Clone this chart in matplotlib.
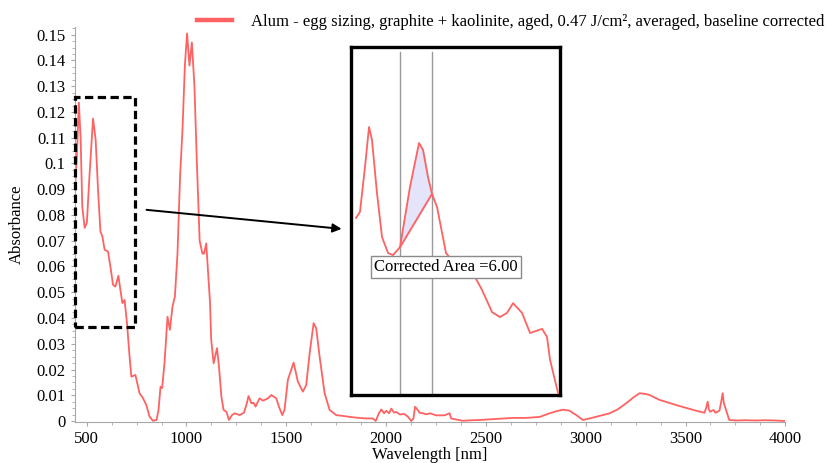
import numpy as np
import matplotlib
matplotlib.use("Agg")
import matplotlib.pyplot as plt
from matplotlib.lines import Line2D
from matplotlib.patches import Rectangle
from matplotlib.ticker import MultipleLocator, FuncFormatter

plt.rcParams["font.family"] = ["Liberation Serif", "DejaVu Serif"]
plt.rcParams["font.size"] = 12

RED = "#ff6262"
GREY = "#a8a8a8"

# main spectrum
wl = [440, 451, 461, 470, 478, 490, 501, 515, 532, 545, 557, 569, 579, 590, 607,
      619, 632, 644, 659, 669, 679, 690, 702, 715, 724, 744, 765, 782, 799, 815,
      832, 850, 860, 870, 878, 890, 905, 917, 930, 942, 955, 968, 980, 992, 1003,
      1015, 1027, 1040, 1052, 1066, 1080, 1088, 1099, 1110, 1118, 1124, 1136, 1153,
      1163, 1175, 1186, 1200, 1213, 1228, 1241, 1266, 1288, 1300, 1311, 1325, 1336,
      1346, 1366, 1383, 1408, 1425, 1450, 1463, 1480, 1491, 1508, 1537, 1558, 1583,
      1600, 1617, 1637, 1650, 1667, 1692, 1717, 1750, 1850, 1900, 1934, 1948, 1964,
      1976, 1990, 2001, 2015, 2026, 2040, 2051, 2070, 2090, 2109, 2126, 2137, 2145,
      2154, 2168, 2185, 2201, 2220, 2251, 2292, 2318, 2326, 2350, 2384, 2430, 2468,
      2550, 2635, 2700, 2770, 2819, 2853, 2886, 2919, 2953, 2986, 3020, 3070, 3120,
      3160, 3203, 3240, 3270, 3300, 3320, 3370, 3453, 3553, 3595, 3603, 3611, 3617,
      3623, 3640, 3650, 3670, 3680, 3686, 3692, 3703, 3719, 3753, 3800, 3850, 3900,
      3950, 4000]
absorb = [0.0886, 0.1027, 0.1236, 0.1092, 0.0833, 0.0750, 0.0770, 0.0964, 0.1174,
          0.1092, 0.0898, 0.0736, 0.0716, 0.0665, 0.0658, 0.0600, 0.0529, 0.0522,
          0.0564, 0.0509, 0.0458, 0.0470, 0.0380, 0.0250, 0.0172, 0.0179, 0.0108,
          0.0089, 0.0062, 0.0017, 0.0001, 0.0004, 0.0043, 0.0133, 0.0128, 0.0225,
          0.0405, 0.0354, 0.0444, 0.0483, 0.0650, 0.0950, 0.1130, 0.1380, 0.1505,
          0.1380, 0.1470, 0.1300, 0.1007, 0.0700, 0.0650, 0.0650, 0.0690, 0.0560,
          0.0460, 0.0315, 0.0224, 0.0283, 0.0211, 0.0094, 0.0043, 0.0036, 0.0004,
          0.0023, 0.0030, 0.0023, 0.0032, 0.0062, 0.0097, 0.0069, 0.0071, 0.0056,
          0.0088, 0.0079, 0.0088, 0.0101, 0.0088, 0.0056, 0.0023, 0.0043, 0.0160,
          0.0227, 0.0153, 0.0114, 0.0140, 0.0263, 0.0380, 0.0360, 0.0250, 0.0108,
          0.0043, 0.0023, 0.0013, 0.0010, 0.0010, 0.0000, 0.0030, 0.0045, 0.0030,
          0.0040, 0.0030, 0.0048, 0.0033, 0.0035, 0.0025, 0.0028, 0.0017, 0.0000,
          0.0010, 0.0055, 0.0048, 0.0032, 0.0030, 0.0026, 0.0030, 0.0022, 0.0022,
          0.0030, 0.0010, 0.0006, 0.0001, 0.0003, 0.0004, 0.0008, 0.0012, 0.0012,
          0.0016, 0.0030, 0.0038, 0.0044, 0.0040, 0.0023, 0.0004, 0.0010, 0.0020,
          0.0030, 0.0045, 0.0069, 0.0092, 0.0108, 0.0105, 0.0101, 0.0082, 0.0062,
          0.0040, 0.0032, 0.0050, 0.0075, 0.0045, 0.0036, 0.0043, 0.0032, 0.0040,
          0.0080, 0.0108, 0.0070, 0.0043, 0.0004, 0.0002, 0.0003, 0.0002, 0.0003,
          0.0002, 0.0000]

# zoomed illustration in the inset
inset_wl = [476.6, 481.8, 488.4, 493.7, 497.6, 504.2, 510.8, 518.7, 525.3, 534.5,
            547.6, 559.5, 564.8, 571.3, 576.6, 583.2, 595.0, 613.4, 633.2, 642.4,
            655.6, 666.1, 675.3, 683.2, 695.0, 705.6, 721.4, 727.9, 731.9, 742.4]
inset_abs = [0.0809, 0.0826, 0.0955, 0.1070, 0.1033, 0.0880, 0.0754, 0.0708, 0.0702,
             0.0725, 0.0898, 0.1024, 0.1004, 0.0926, 0.0878, 0.0840, 0.0708, 0.0659,
             0.0639, 0.0602, 0.0538, 0.0524, 0.0536, 0.0564, 0.0536, 0.0478, 0.0490,
             0.0467, 0.0401, 0.0306]
area_lo, area_hi = 534.5, 576.6
area_label = "Corrected Area =6.00"

zoom_box = (440, 740, 0.0365, 0.1260)
label = "Alum - egg sizing, graphite + kaolinite, aged, 0.47 J/cm\u00b2, averaged, baseline corrected"

fig = plt.figure(figsize=(8.27, 4.63), dpi=100)
ax = fig.add_axes([0.0903, 0.0879, 0.8593, 0.8538])
ax.plot(wl, absorb, color=RED, lw=1.3)
ax.set_xlim(440, 4000)
ax.set_ylim(-0.0005, 0.153)
ax.xaxis.set_major_locator(MultipleLocator(500))
ax.xaxis.set_minor_locator(MultipleLocator(125))
ax.yaxis.set_major_locator(MultipleLocator(0.01))
ax.yaxis.set_minor_locator(MultipleLocator(0.0025))
ax.yaxis.set_major_formatter(FuncFormatter(lambda v, _: f"{v:g}" if abs(v) > 1e-9 else "0"))
for s in ("top", "right"):
    ax.spines[s].set_visible(False)
for s in ("left", "bottom"):
    ax.spines[s].set_color(GREY)
ax.tick_params(which="both", direction="out", color=GREY, labelsize=12)
ax.tick_params(which="major", length=3)
ax.tick_params(which="minor", length=2)
ax.set_xlabel("Wavelength [nm]", fontsize=12, labelpad=0)
ax.set_ylabel("Absorbance", fontsize=12, labelpad=8)

x0, x1, y0, y1 = zoom_box
ax.add_patch(Rectangle((x0, y0), x1 - x0, y1 - y0, fill=False, ec="black", lw=2.3,
                       ls=(0, (2.6, 1.4)), clip_on=False, zorder=5))
ax.annotate("", xy=(1777, 0.0746), xytext=(800, 0.082),
            arrowprops=dict(arrowstyle="-|>", color="black", lw=1.4,
                            mutation_scale=13, shrinkA=0, shrinkB=0))

ax.legend(handles=[Line2D([], [], color=RED, lw=3.2)], labels=[label],
          loc="center right", bbox_to_anchor=(824 / 827, 1 - 22 / 463),
          bbox_transform=fig.transFigure, frameon=False, fontsize=12,
          handlelength=2.1, handletextpad=1.1, borderpad=0, borderaxespad=0)

ins = fig.add_axes([351 / 827, 1 - 395 / 463, 209 / 827, 348 / 463])
ins.plot(inset_wl, inset_abs, color=RED, lw=1.3, zorder=3)
ins.set_xlim(470, 745)
ins.set_ylim(0.03, 0.13)
ins.set_xticks([])
ins.set_yticks([])
for s in ins.spines.values():
    s.set_linewidth(2.4)
    s.set_color("black")
for xv in (area_lo, area_hi):
    ins.axvline(xv, ymax=0.986, color="#999999", lw=1.0, zorder=1)
xs = np.linspace(area_lo, area_hi, 60)
curve = np.interp(xs, inset_wl, inset_abs)
ya, yb = np.interp([area_lo, area_hi], inset_wl, inset_abs)
base = ya + (yb - ya) * (xs - area_lo) / (area_hi - area_lo)
ins.fill_between(xs, base, curve, color="#e4e4fa", zorder=2)
ins.plot([area_lo, area_hi], [ya, yb], color=RED, lw=1.3, zorder=3)
ins.text(0.455, 0.368, area_label, transform=ins.transAxes, ha="center", va="center",
         fontsize=12, zorder=4,
         bbox=dict(boxstyle="square,pad=0.2", fc="white", ec="#8a8a8a", lw=1))

fig.savefig("out.png", dpi=100)
